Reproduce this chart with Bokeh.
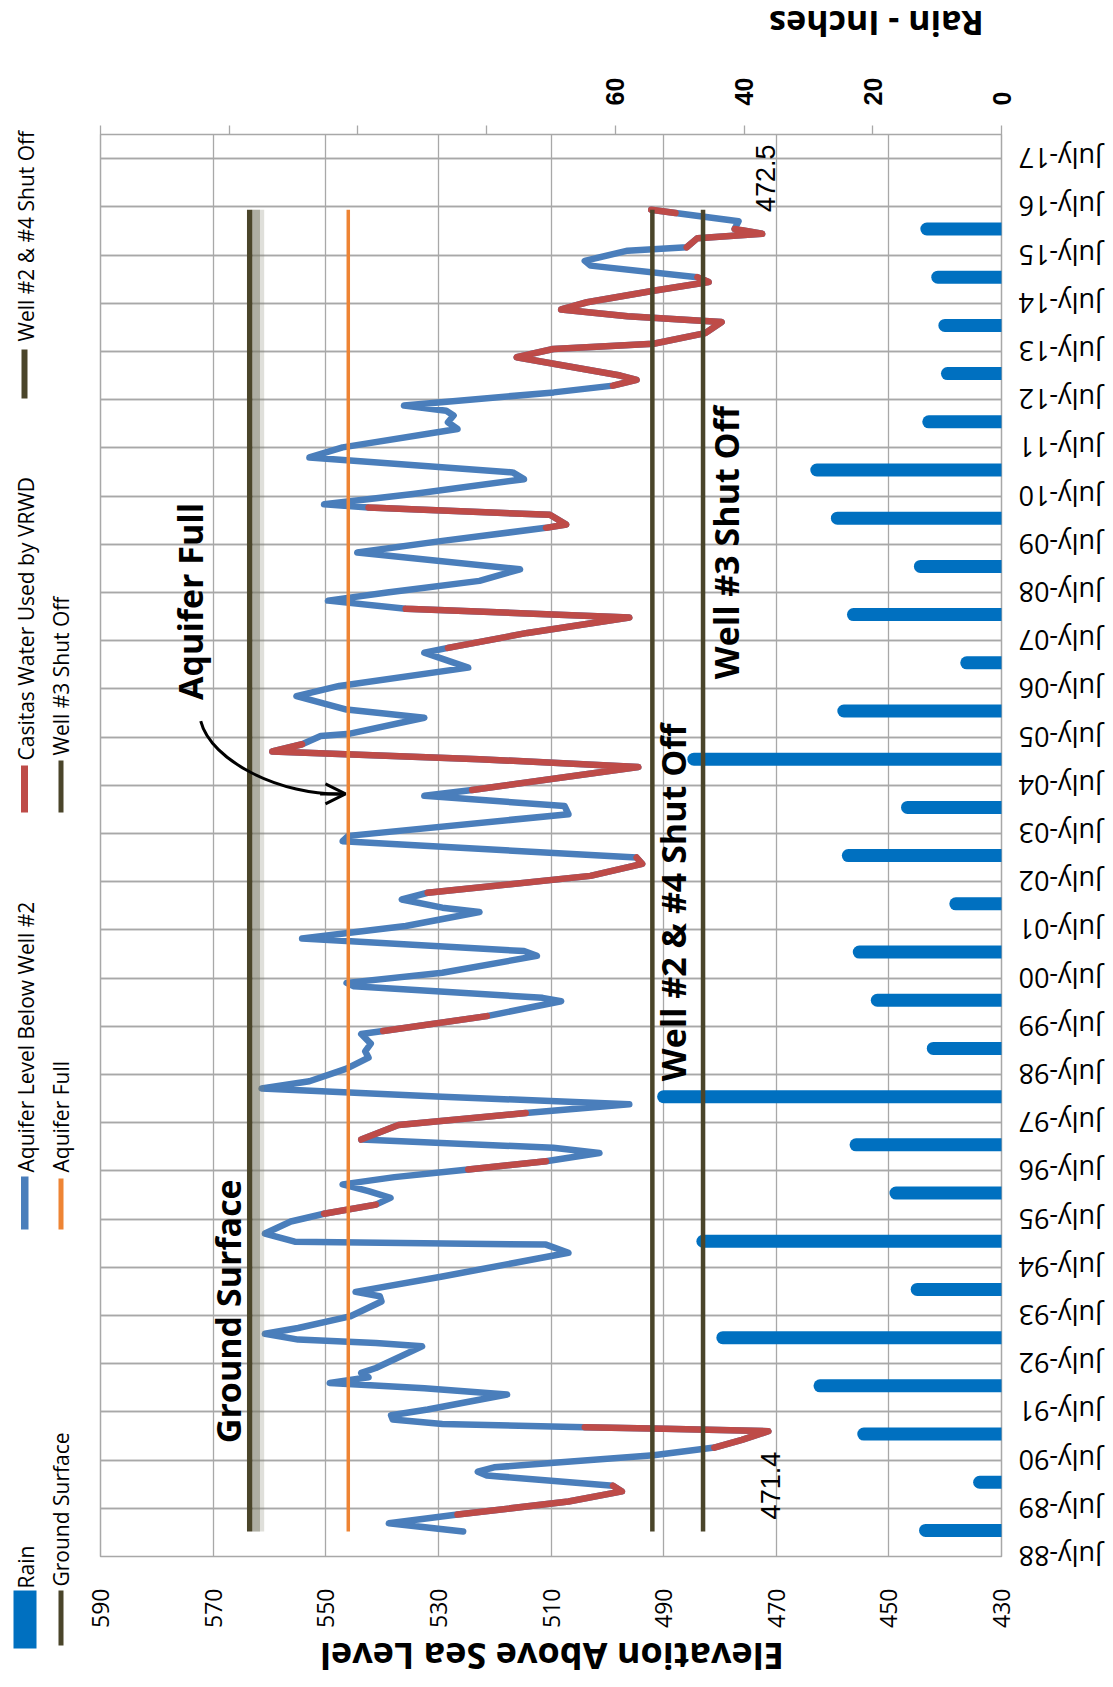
import math
from bokeh.plotting import figure
from bokeh.layouts import row, column
from bokeh.models import Range1d, LinearAxis, FixedTicker, Grid, Arrow, OpenHead
from bokeh.core.properties import value
from bokeh.embed import file_html
from bokeh.resources import INLINE

FONT = "Open Sans"
NUM_FONT = "Liberation Sans"
GRID = "#A8A8A8"
BLUE = "#4A7EBB"
RED = "#BE4B48"
RAIN = "#0070C0"
OLIVE = "#4A452A"
ORANGE = "#EE8434"

# ---------------- data ----------------
# aquifer level below well #2 (decimal year, feet above sea level)
date_1989_1995 = [1989.02, 1989.19, 1989.37, 1989.64, 1989.85, 1989.97, 1990.18, 1990.26, 1990.35, 1990.60,
                  1990.76, 1990.92, 1991.10, 1991.15, 1991.18, 1991.25, 1991.34, 1991.43, 1991.55, 1991.86,
                  1991.99, 1992.10, 1992.22, 1992.31, 1992.41, 1992.86, 1992.93, 1993.00, 1993.12, 1993.24,
                  1993.48, 1993.79, 1993.90, 1993.99, 1994.31, 1994.80, 1994.97, 1995.03, 1995.20, 1995.45,
                  1995.61, 1995.80]
level_1989_1995 = [525.6, 538.8, 526.6, 506.9, 497.4, 499.0, 521.4, 523.0, 520.1, 491.8,
                   481.0, 476.1, 471.4, 489.9, 504.0, 529.3, 538.1, 538.4, 531.9, 517.8,
                   532.5, 549.3, 542.4, 543.7, 541.1, 532.9, 541.1, 554.9, 560.8, 554.9,
                   545.7, 540.1, 540.4, 544.7, 529.3, 506.9, 510.9, 555.5, 560.8, 556.2,
                   550.3, 541.1]
date_1996_2003 = [1995.94, 1996.08, 1996.22, 1996.37, 1996.53, 1996.70, 1996.87, 1996.98, 1997.15, 1997.45,
                  1997.70, 1997.88, 1998.04, 1998.21, 1998.36, 1998.62, 1998.85, 1998.98, 1999.14, 1999.34,
                  1999.40, 1999.71, 2000.02, 2000.09, 2000.33, 2000.40, 2000.61, 2000.96, 2001.06, 2001.32,
                  2001.58, 2001.87, 2001.96, 2002.13, 2002.27, 2002.62, 2002.87, 2003.00]
level_1996_2003 = [538.5, 542.4, 547.0, 537.8, 524.7, 510.9, 501.4, 509.6, 543.7, 537.1,
                   514.5, 496.1, 529.3, 561.4, 552.9, 546.3, 542.4, 543.0, 542.0, 543.7,
                   539.8, 521.4, 508.2, 511.5, 545.0, 546.3, 529.3, 512.5, 514.8, 554.2,
                   535.8, 522.7, 529.3, 536.5, 531.9, 503.0, 493.8, 494.8]
date_2003_2010 = [2003.34, 2003.45, 2003.90, 2004.07, 2004.28, 2004.40, 2004.88, 2005.04, 2005.20, 2005.35,
                  2005.52, 2005.57, 2005.90, 2006.07, 2006.35, 2006.56, 2006.94, 2007.25, 2007.35, 2007.66,
                  2007.98, 2008.16, 2008.33, 2008.50, 2008.74, 2008.98, 2009.33, 2009.57, 2009.84, 2009.91,
                  2010.11, 2010.26, 2010.33]
level_2003_2010 = [547.0, 546.0, 506.9, 507.6, 532.5, 524.0, 494.5, 522.7, 559.5, 554.2,
                   550.9, 545.7, 532.5, 546.3, 555.2, 547.6, 524.7, 532.5, 528.3, 514.2,
                   496.1, 535.8, 549.6, 539.1, 522.7, 515.5, 544.4, 529.3, 510.9, 507.3,
                   510.2, 542.4, 550.3]
date_2010_2016 = [2010.54, 2010.85, 2010.99, 2011.30, 2011.51, 2011.89, 2012.03, 2012.17, 2012.27, 2012.38,
                  2012.65, 2012.79, 2012.91, 2013.00, 2013.38, 2013.55, 2013.66, 2013.88, 2014.11, 2014.23,
                  2014.37, 2014.52, 2014.76, 2014.94, 2015.04, 2015.28, 2015.38, 2015.59, 2015.66, 2015.85,
                  2015.94, 2016.04, 2016.20, 2016.37, 2016.44]
level_2010_2016 = [534.5, 514.8, 516.8, 552.9, 547.0, 526.6, 528.3, 527.3, 528.6, 536.1,
                   509.5, 499.0, 494.8, 497.7, 516.1, 509.6, 491.8, 482.6, 479.7, 496.4,
                   508.2, 503.6, 491.8, 482.0, 484.0, 503.0, 504.0, 496.4, 485.9, 484.0,
                   472.5, 477.4, 476.7, 487.9, 492.2]

# periods when Casitas water was used by VRWD (start, end)
casitas_periods = [(1989.37, 1989.97), (1990.76, 1991.18), (1995.61, 1995.80), (1996.53, 1996.70),
                   (1997.15, 1997.70), (1999.40, 1999.71), (2002.27, 2003.00), (2004.40, 2005.35),
                   (2007.35, 2008.16), (2009.84, 2010.26), (2012.79, 2014.37), (2014.52, 2015.04),
                   (2015.66, 2016.04), (2016.37, 2016.44)]

# yearly rain, inches
rain_date = [1989.04, 1990.04, 1991.04, 1992.04, 1993.04, 1994.04, 1995.04, 1996.04, 1997.04, 1998.04,
             1999.04, 2000.04, 2001.04, 2002.04, 2003.04, 2004.04, 2005.04, 2006.04, 2007.04, 2008.04,
             2009.04, 2010.04, 2011.04, 2012.04, 2013.04, 2014.04, 2015.04, 2016.04]
rain_inches = [11.8, 3.4, 21.4, 28.2, 43.3, 13.1, 46.4, 16.4, 22.6, 52.5,
               10.6, 19.3, 22.1, 7.1, 23.8, 14.6, 47.8, 24.5, 5.4, 23.0,
               12.6, 25.5, 28.7, 11.3, 8.4, 8.8, 9.9, 11.6]

# reference levels
ground_surface = 563.5
aquifer_full = 546.0
well_2_4_shut_off = 492.0
well_3_shut_off = 483.0

# axes
elev_ticks = [430, 450, 470, 490, 510, 530, 550, 570, 590]
rain_ticks = [0, 20, 40, 60, 80, 100, 120, 140]
rain_labelled = [0, 20, 40, 60]
july_years = list(range(1988, 2018))
july_labels = ["July-%02d" % (y % 100) for y in july_years]

aquifer_date = date_1989_1995 + date_1996_2003 + date_2003_2010 + date_2010_2016
aquifer_level = level_1989_1995 + level_1996_2003 + level_2003_2010 + level_2010_2016
casitas_level = [lv if any(a - 1e-6 <= d <= b + 1e-6 for a, b in casitas_periods) else float("nan")
                 for d, lv in zip(aquifer_date, aquifer_level)]
july_ticks = [y + 0.5 for y in july_years]
span = [aquifer_date[0], aquifer_date[-1]]

# ---------------- layout geometry (pixels) ----------------
PAGE_X0, PAGE_Y0 = 0, 0
TOP_H = 68
LEG_W = 82
MAIN_BL, FRAME_W, MAIN_BR = 18, 901, 17
MAIN_BT, FRAME_H, MAIN_BB = 66, 1422, 74
BOT_H = 50
DATE_W = 87
MID_H = MAIN_BT + FRAME_H + MAIN_BB + BOT_H
MAIN_W = MAIN_BL + FRAME_W + MAIN_BR
TOTAL_W = LEG_W + MAIN_W + DATE_W
Y_START, Y_END = 1988.5, 2018.0


def helper_fig(w, h, xr, yr):
    f = figure(width=w, height=h, x_range=xr, y_range=yr, min_border=0,
               x_axis_location=None, y_axis_location=None,
               output_backend="svg", toolbar_location=None)
    f.grid.visible = False
    f.outline_line_color = None
    f.background_fill_color = "white"
    f.border_fill_color = "white"
    return f


def txt(f, x, y, t, size, angle, align="left", bold=False, font=FONT):
    f.text(x=[x], y=[y], text=[t], angle=angle, text_font=value(font),
           text_font_size=size, text_font_style="bold" if bold else "normal",
           text_align=align, text_baseline="middle", text_color="black")


# ---------------- main figure ----------------
p = figure(frame_width=FRAME_W, frame_height=FRAME_H,
           x_range=Range1d(590, 430), y_range=Range1d(Y_START, Y_END),
           y_axis_location=None, output_backend="svg", toolbar_location=None,
           min_border_left=MAIN_BL, min_border_right=MAIN_BR,
           min_border_top=MAIN_BT, min_border_bottom=MAIN_BB)
p.background_fill_color = "white"
p.border_fill_color = "white"
p.outline_line_color = GRID
p.outline_line_width = 1.5

xa = p.xaxis[0]
xa.ticker = FixedTicker(ticks=elev_ticks)
xa.major_label_orientation = math.pi / 2
xa.major_tick_out = 0
xa.major_tick_in = 0
xa.minor_tick_out = 0
xa.minor_tick_in = 0
xa.axis_line_color = None
xa.major_label_standoff = 32
xa.major_label_text_font = FONT
xa.major_label_text_font_size = "23px"
xa.major_label_text_font_style = "normal"
xa.major_label_text_color = "black"

p.xgrid.ticker = FixedTicker(ticks=elev_ticks)
p.add_layout(Grid(dimension=1, ticker=FixedTicker(ticks=july_ticks)))
p.ygrid.ticker = FixedTicker(ticks=july_ticks)
p.grid.grid_line_color = GRID
p.grid.grid_line_width = 1.3

p.extra_x_ranges = {"rain": Range1d(140, 0)}
ra = LinearAxis(x_range_name="rain", ticker=FixedTicker(ticks=rain_ticks),
                major_label_overrides={t: "" for t in rain_ticks if t not in rain_labelled})
ra.major_label_orientation = math.pi / 2
ra.major_tick_out = 9
ra.major_tick_in = 0
ra.minor_tick_out = 0
ra.minor_tick_in = 0
ra.major_tick_line_color = GRID
ra.major_tick_line_width = 1.3
ra.axis_line_color = None
ra.major_label_standoff = 20
ra.major_label_text_font = NUM_FONT
ra.major_label_text_font_size = "25px"
ra.major_label_text_font_style = "bold"
ra.major_label_text_color = "black"
p.add_layout(ra, "above")

# rain bars
p.segment(x0=0, y0=rain_date, x1=rain_inches, y1=rain_date, x_range_name="rain",
          line_width=13, line_cap="round", color=RAIN)

# aquifer level line and Casitas periods
p.line(x=aquifer_level, y=aquifer_date, line_width=6.5, color=BLUE, line_join="round", line_cap="round")
p.line(x=casitas_level, y=aquifer_date, line_width=6.5, color=RED, line_join="round", line_cap="round")

# reference lines (ground surface with a soft shadow)
p.segment(x0=ground_surface - 1.5, y0=span[0], x1=ground_surface - 1.5, y1=span[1],
          line_width=12, color="#7E7E6C", alpha=0.25)
p.segment(x0=ground_surface - 1.2, y0=span[0], x1=ground_surface - 1.2, y1=span[1],
          line_width=7, color="#7E7E6C", alpha=0.5)
p.segment(x0=ground_surface, y0=span[0], x1=ground_surface, y1=span[1], line_width=5.5, color=OLIVE)
p.segment(x0=aquifer_full, y0=span[0], x1=aquifer_full, y1=span[1], line_width=3.5, color=ORANGE)
p.segment(x0=well_2_4_shut_off, y0=span[0], x1=well_2_4_shut_off, y1=span[1], line_width=4.5, color=OLIVE)
p.segment(x0=well_3_shut_off, y0=span[0], x1=well_3_shut_off, y1=span[1], line_width=4.5, color=OLIVE)

# annotations inside the plot
UP = math.pi / 2
txt(p, 567.3, 1990.85, "Ground Surface", "34px", UP, bold=True)
txt(p, 574.1, 2006.27, "Aquifer Full", "34px", UP, bold=True)
txt(p, 488.4, 1998.36, "Well #2 & #4 Shut Off", "34px", UP, bold=True)
txt(p, 478.85, 2006.70, "Well #3 Shut Off", "34px", UP, bold=True)
txt(p, 471.05, 1989.27, "471.4", "27px", UP, font=NUM_FONT)
txt(p, 471.9, 2016.39, "472.5", "27px", UP, font=NUM_FONT)

p.bezier(x0=572.2, y0=2005.83, x1=546.8, y1=2004.32, cx0=570.4, cy0=2005.0, cx1=558.0, cy1=2004.28,
         line_width=3, color="black")
p.add_layout(Arrow(end=OpenHead(size=20, line_width=3, line_color="black"),
                   x_start=551.0, y_start=2004.32, x_end=546.5, y_end=2004.32,
                   line_width=3, line_color="black"))

# ---------------- date labels (right strip, shares the time scale) ----------------
ppy = FRAME_H / (Y_END - Y_START)
date_fig = helper_fig(DATE_W, MID_H, Range1d(0, DATE_W),
                      Range1d(Y_START - (MAIN_BB + BOT_H) / ppy, Y_END + MAIN_BT / ppy))
date_fig.text(x=0, y=july_ticks, text=july_labels, angle=math.pi, text_font=value(FONT),
              text_font_size="27px", text_align="right", text_baseline="middle", text_color="black")

# ---------------- legend (left strip, page pixel coordinates) ----------------
leg_x0 = PAGE_X0
leg_y0 = PAGE_Y0 + TOP_H
leg = helper_fig(LEG_W, MID_H, Range1d(leg_x0, leg_x0 + LEG_W), Range1d(leg_y0 + MID_H, leg_y0))
legend_items = [
    # name, colour, swatch left, right, top, bottom, text x, text start y
    ("Rain", RAIN, 13, 36, 1590, 1648, 25, 1588),
    ("Aquifer Level Below Well #2", BLUE, 20.5, 28, 1176, 1229, 25, 1172),
    ("Casitas Water Used by VRWD", RED, 20.5, 27.5, 765, 812, 25, 760),
    ("Well #2 & #4 Shut Off", OLIVE, 21, 27, 349, 398, 25, 341),
    ("Ground Surface", OLIVE, 58, 63, 1590, 1645, 60, 1586),
    ("Aquifer Full", ORANGE, 58, 63, 1178, 1229, 60, 1172),
    ("Well #3 Shut Off", OLIVE, 58, 63, 760, 812, 60, 755),
]
for name, col, l, r, t, b, tx, ty in legend_items:
    leg.quad(left=l, right=r, top=t, bottom=b, fill_color=col, line_color=None)
    txt(leg, tx, ty, name, "21px", UP)

# ---------------- titles ----------------
top = helper_fig(TOTAL_W, TOP_H, Range1d(PAGE_X0, PAGE_X0 + TOTAL_W), Range1d(PAGE_Y0 + TOP_H, PAGE_Y0))
txt(top, 876, 23, "Rain - Inches", "34px", math.pi, align="center", bold=True)

bx0 = PAGE_X0 + LEG_W
by0 = PAGE_Y0 + TOP_H + MAIN_BT + FRAME_H + MAIN_BB
bottom = helper_fig(MAIN_W, BOT_H, Range1d(bx0, bx0 + MAIN_W), Range1d(by0 + BOT_H, by0))
txt(bottom, 551, 1656, "Elevation Above Sea Level", "36px", math.pi, align="center", bold=True)

layout = column(top, row(leg, column(p, bottom), date_fig))
open("out.html", "w").write(file_html(layout, INLINE))
